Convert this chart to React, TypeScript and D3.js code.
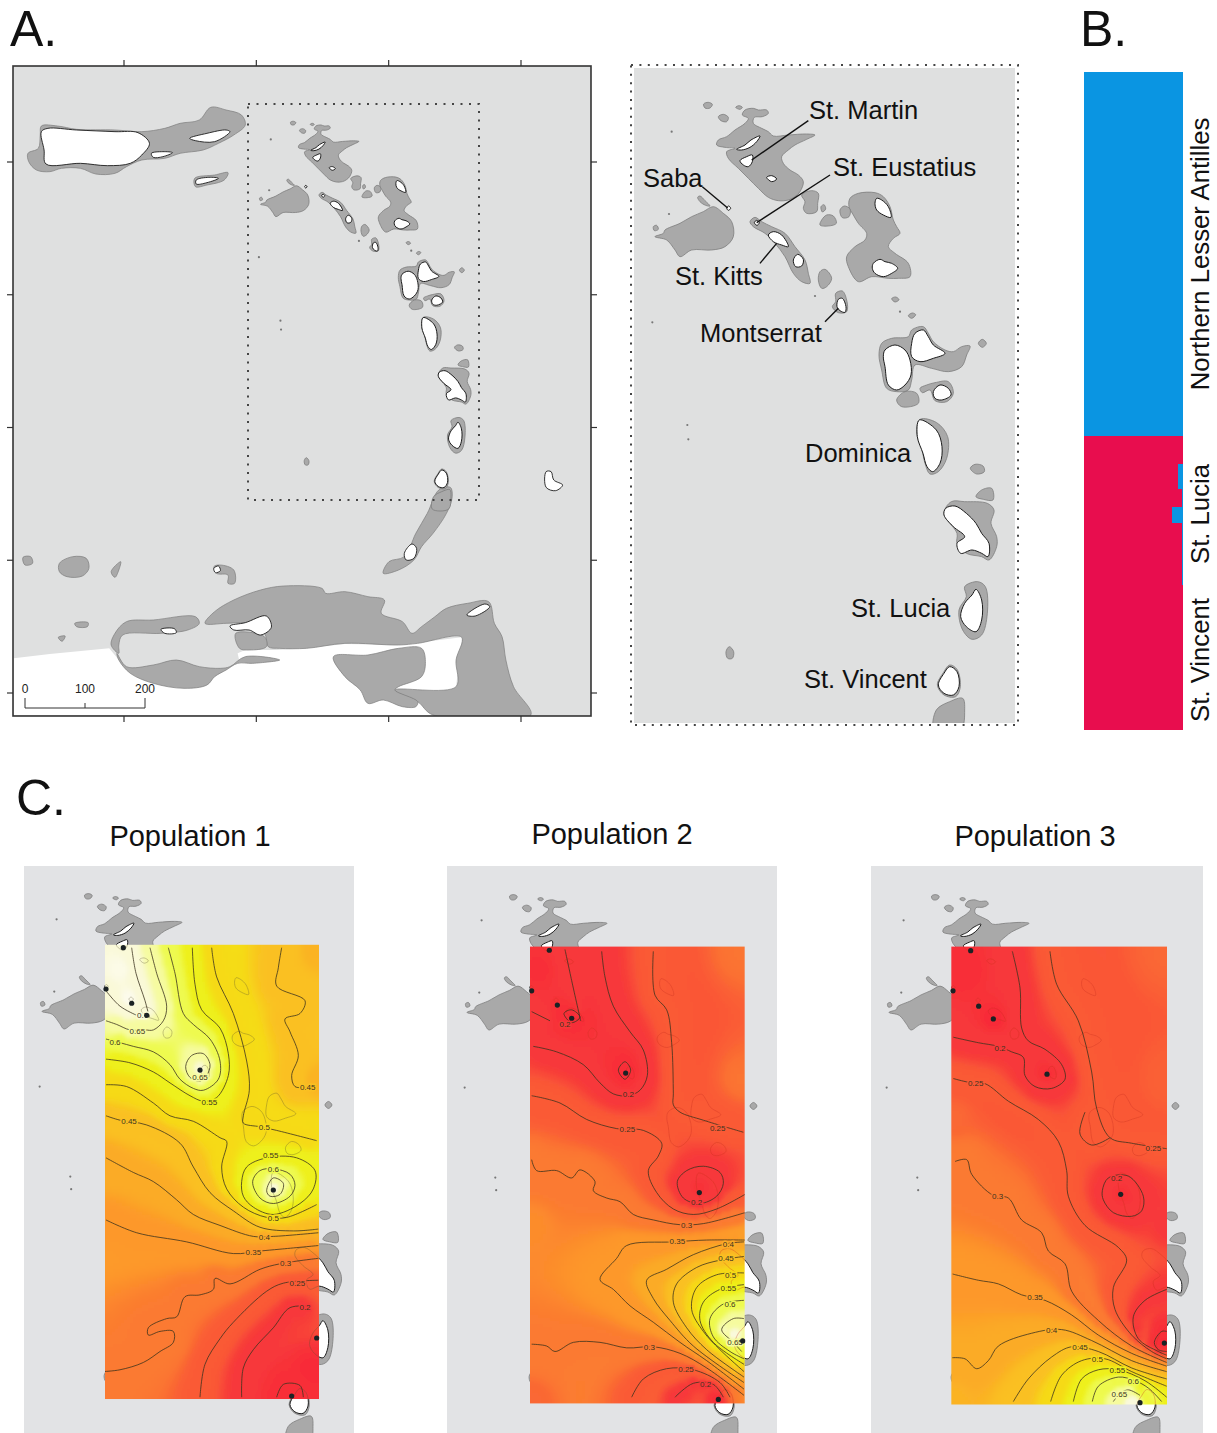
import React, { useMemo } from "react";
import * as d3 from "d3";

type P = number[];
type Contour = { level: number; pts: P[]; closed?: boolean; label?: P };

// ---- shared geography, in map units -------------------------------------------------
const SHELVES: P[][] = [
  [[360,150],[385,145],[400,150],[425,150],[430,160],[412,170],[388,172],[385,190],[410,205],[430,215],[445,228],[490,225],[545,222],[570,225],[545,238],[510,255],[490,270],[470,290],[475,310],[495,330],[520,345],[535,365],[525,395],[510,410],[490,420],[460,422],[430,412],[400,385],[370,355],[340,325],[310,295],[305,275],[330,265],[300,262],[275,255],[280,240],[305,230],[330,210],[360,190],[370,175],[352,165]],
  [[236,132],[250,127],[262,133],[255,144],[240,144]],
  [[280,170],[295,163],[310,172],[305,185],[288,182]],
  [[332,142],[342,137],[352,142],[345,148]],
  [[530,405],[560,392],[580,400],[578,430],[575,455],[545,460],[535,445],[540,425]],
  [[588,440],[597,434],[602,447],[592,456]],
  [[590,480],[605,465],[625,468],[634,490],[610,498],[585,495]],
  [[675,415],[700,400],[750,398],[775,410],[795,440],[805,480],[815,500],[825,520],[805,535],[790,560],[810,580],[850,610],[855,650],[820,655],[790,655],[740,650],[700,665],[670,620],[665,590],[690,560],[720,540],[725,520],[700,490],[685,465],[672,440]],
  [[645,450],[658,438],[675,447],[672,470],[652,473]],
  [[120,510],[165,490],[200,470],[235,455],[265,440],[295,460],[320,485],[325,530],[300,560],[260,570],[200,570],[165,590],[150,570],[125,540],[90,530],[115,520]],
  [[85,500],[95,496],[100,508],[88,512]],
  [[218,412],[225,408],[240,422],[255,438],[242,436],[225,425]],
  [[375,485],[390,472],[410,485],[440,500],[480,520],[510,560],[540,600],[550,640],[555,670],[530,665],[505,640],[480,590],[450,550],[420,520],[385,500]],
  [[585,635],[600,628],[620,655],[605,680],[590,685],[580,660]],
  [[632,700],[652,693],[665,720],[665,755],[640,758],[622,740],[632,725]],
  [[800,716],[812,711],[822,719],[810,726]],
  [[850,767],[862,759],[872,764],[860,775]],
  [[770,850],[800,835],[850,830],[860,810],[895,800],[910,820],[925,845],[960,870],[985,875],[1010,860],[1035,858],[1025,885],[1010,920],[970,935],[920,925],[870,915],[860,960],[850,990],[815,995],[785,985],[770,930],[762,885]],
  [[1060,850],[1072,838],[1084,850],[1072,862]],
  [[885,985],[905,975],[930,968],[970,965],[985,1000],[965,1025],[930,1022],[915,990],[892,998]],
  [[815,1020],[840,995],[875,1000],[880,1030],[830,1040]],
  [[885,1078],[935,1088],[968,1130],[965,1195],[940,1235],[915,1242],[900,1210],[890,1165],[875,1120]],
  [[1036,1225],[1050,1213],[1074,1218],[1078,1235],[1055,1242]],
  [[1053,1310],[1070,1290],[1100,1285],[1104,1320],[1075,1318]],
  [[979,1325],[1019,1325],[1087,1330],[1107,1350],[1098,1390],[1115,1430],[1115,1460],[1092,1500],[1070,1490],[1024,1480],[996,1450],[996,1420],[957,1360]],
  [[1019,1580],[1058,1565],[1081,1580],[1087,1660],[1070,1725],[1041,1738],[1013,1710],[1002,1650],[1024,1610]],
  [[974,1815],[996,1828],[1006,1880],[992,1910],[957,1905],[937,1875],[955,1838]],
  [[934,1950],[974,1925],[1013,1915],[1019,1950],[1007,2010],[928,2010]],
  [[303,1775],[313,1760],[326,1775],[322,1795],[308,1795]],
];
const LANDS: P[][] = [
  [[335,268],[360,255],[378,240],[405,228],[395,245],[375,262],[350,270]],
  [[345,302],[365,290],[382,285],[382,305],[370,320],[355,315]],
  [[425,352],[440,347],[455,357],[440,365]],
  [[305,444],[311,438],[317,445],[310,451]],
  [[388,488],[395,481],[403,488],[396,496]],
  [[430,525],[445,515],[470,525],[490,560],[470,555],[445,545]],
  [[505,600],[518,583],[535,598],[530,618],[512,620]],
  [[755,415],[770,420],[790,440],[798,472],[775,465],[755,450],[750,430]],
  [[745,610],[765,598],[780,605],[800,610],[818,625],[800,640],[775,650],[750,640],[742,625]],
  [[640,718],[652,715],[663,740],[660,757],[645,752],[636,740]],
  [[780,870],[810,855],[840,870],[855,900],[858,945],[840,975],[815,990],[790,975],[780,920],[775,890]],
  [[860,850],[870,820],[895,810],[910,830],[925,855],[960,880],[925,895],[885,905],[860,890]],
  [[925,995],[945,975],[970,985],[978,1005],[950,1020],[930,1015]],
  [[883,1080],[934,1110],[951,1160],[945,1210],[923,1235],[906,1220],[894,1180],[877,1130]],
  [[962,1345],[990,1338],[1024,1360],[1053,1390],[1070,1420],[1092,1450],[1089,1490],[1070,1480],[1041,1470],[1007,1480],[996,1450],[1019,1430],[985,1400],[957,1365]],
  [[1053,1588],[1070,1620],[1070,1680],[1053,1715],[1024,1700],[1007,1670],[1019,1630],[1041,1605]],
  [[974,1820],[996,1835],[1002,1880],[985,1905],[957,1900],[940,1875],[957,1840]],
];
const SPECKS: P[] = [[140,215],[132,462],[82,787],[187,1095],[190,1138],[570,708],[825,755]];

// ---- regional geography, panel A only, in regional units ------------------------------
const MAINLAND: P[] = [[36,1975],[130,1962],[285,1945],[310,1980],[340,2020],[400,2050],[480,2065],[540,2055],[560,2030],[590,2010],[625,1985],[620,1960],[640,1950],[720,1950],[800,1945],[900,1932],[1040,1935],[1205,1912],[1190,2060],[1130,2146],[36,2146]];
const REGION_SHELVES: P[][] = [
  [[73,460],[100,445],[105,405],[108,378],[150,378],[200,388],[300,390],[370,395],[430,385],[470,370],[520,360],[550,322],[590,330],[630,345],[640,375],[610,405],[570,430],[530,450],[470,460],[430,475],[370,480],[330,500],[300,520],[250,522],[210,505],[160,505],[130,515],[95,510],[75,485]],
  [[508,535],[560,525],[595,518],[585,540],[540,555],[510,560]],
  [[1175,1462],[1180,1490],[1165,1540],[1130,1600],[1100,1640],[1080,1680],[1040,1710],[1000,1720],[1015,1685],[1055,1670],[1085,1600],[1115,1540],[1145,1470]],
  [[60,1672],[80,1670],[85,1690],[65,1695]],
  [[155,1690],[190,1670],[225,1675],[232,1705],[215,1728],[175,1730],[155,1715]],
  [[290,1715],[315,1685],[310,1710],[300,1732]],
  [[558,1700],[575,1695],[610,1710],[612,1750],[595,1750],[595,1725],[565,1720]],
  [[535,1870],[560,1835],[610,1800],[680,1770],[740,1758],[840,1765],[850,1780],[900,1775],[960,1790],[1003,1800],[995,1840],[1050,1865],[1075,1900],[1100,1880],[1135,1850],[1165,1825],[1220,1810],[1275,1805],[1290,1870],[1310,1910],[1320,1980],[1340,2060],[1385,2145],[1130,2145],[1090,2105],[1030,2070],[1190,2060],[1190,1980],[1205,1912],[1090,1930],[1040,1935],[900,1930],[800,1945],[730,1945],[700,1940],[690,1900],[640,1870],[590,1870]],
  [[290,1935],[300,1900],[330,1865],[400,1860],[510,1850],[520,1870],[490,1890],[420,1900],[320,1905],[310,1935],[310,1960]],
  [[305,1960],[330,2000],[400,1995],[460,1980],[520,2000],[575,2005],[600,2000],[640,1970],[730,1980],[660,1990],[620,1990],[590,2010],[560,2030],[540,2055],[480,2065],[400,2050],[340,2020],[310,1980]],
  [[615,1900],[690,1910],[695,1940],[650,1950],[625,1945]],
  [[870,1970],[960,1965],[1040,1945],[1100,1945],[1110,1990],[1100,2030],[1040,2060],[1030,2070],[1090,2105],[1085,2120],[1050,2120],[1000,2100],[960,2110],[940,2070],[900,2030]],
  [[195,1870],[230,1868],[228,1880],[200,1880]],
  [[152,1912],[170,1908],[162,1924]],
];
const REGION_LANDS: P[][] = [
  [[108,395],[125,385],[200,390],[300,395],[360,398],[390,430],[370,465],[340,490],[280,497],[210,490],[120,492],[115,450]],
  [[395,460],[425,455],[450,458],[425,470],[400,472]],
  [[495,415],[540,400],[590,390],[600,395],[560,425],[510,422]],
  [[512,540],[545,532],[570,535],[540,548],[512,552]],
  [[1425,1415],[1438,1415],[1445,1440],[1468,1455],[1450,1472],[1425,1462]],
  [[1055,1660],[1075,1632],[1087,1645],[1080,1675],[1060,1680]],
  [[600,1878],[640,1868],[695,1848],[708,1882],[680,1905],[650,1890],[610,1890]],
  [[420,1888],[455,1886],[460,1898],[430,1900]],
  [[1218,1845],[1265,1812],[1278,1820],[1240,1848]],
  [[558,1705],[570,1698],[575,1712],[562,1718]],
];

const LON_TICKS = [-64, -63, -62, -61];
const LAT_TICKS = [19, 18, 17, 16, 15];
const SCALE_BAR = [0, 100, 200];

// ---- inset labels ---------------------------------------------------------------------
const INSET_LABELS: [string, number, number][] = [
  ["St. Martin", 809, 119], ["Saba", 643, 187], ["St. Eustatius", 833, 176], ["St. Kitts", 675, 285],
  ["Montserrat", 700, 342], ["Dominica", 805, 462], ["St. Lucia", 851, 617], ["St. Vincent", 804, 688],
];
const LEADERS: P[][] = [
  [[550,182],[380,300]], [[232,380],[308,444]], [[615,345],[395,488]], [[455,550],[405,610]], [[640,745],[600,785]],
];

// ---- panel B: cluster membership by individual ------------------------------------------
const STRUCTURE_ROWS: P[] = [[0,55.3,1],[55.3,59.5,0],[59.5,63.4,.05],[63.4,66.1,.012],[66.1,68.5,.11],[68.5,75,.015],[75,78,.012],[78,100,0]];
const CLUSTER_COLORS = ["#e80d4e", "#0a95e2"];

// ---- panel C: membership surfaces --------------------------------------------------------
const P1_SITES: P[] = [[310,240],[258,353],[335,392],[380,425],[540,575],[760,903],[890,1308],[815,1467]];
const P2_SITES: P[] = [[328,247],[275,358],[352,397],[395,433],[557,583],[778,910],[908,1316],[835,1476]];
const P3_SITES: P[] = [[317,248],[264,358],[341,400],[385,435],[546,586],[767,915],[898,1322],[825,1485]];

const P1_CONTOURS: Contour[] = [
  { level: .7, pts: [[335,240],[348,310],[375,385],[388,430]] },
  { level: .7, pts: [[258,358],[300,400],[350,425]], label: [368,425] },
  { level: .65, pts: [[390,240],[410,310],[440,400],[430,440],[400,465],[375,465],[330,465],[290,450],[258,440]], label: [352,467] },
  { level: .6, pts: [[445,240],[465,310],[490,420],[520,450],[570,490],[600,550],[595,600],[550,630],[520,625],[480,600],[450,560],[400,525],[340,510],[300,500],[258,490]], label: [285,497] },
  { level: .65, closed: true, pts: [[497,565],[515,535],[550,530],[570,560],[560,590],[540,605],[510,595]], label: [540,593] },
  { level: .55, pts: [[517,240],[525,340],[545,410],[600,460],[625,530],[625,590],[590,650],[550,660],[510,645],[450,610],[400,580],[330,555],[258,545]], label: [568,662] },
  { level: .5, pts: [[575,240],[590,320],[640,420],[680,550],[688,630],[670,700],[670,720],[720,730],[770,740],[890,768]], label: [733,730] },
  { level: .5, pts: [[258,615],[320,620],[400,665],[450,700],[520,715],[600,760],[620,770],[605,840],[620,900],[670,950],[740,978],[800,978],[890,943]], label: [760,980] },
  { level: .55, closed: true, pts: [[665,880],[680,840],[740,815],[830,815],[885,850],[880,900],[840,940],[760,970],[700,950],[670,920]], label: [752,808] },
  { level: .6, closed: true, pts: [[698,880],[720,850],[760,845],[810,860],[825,890],[810,920],[760,940],[720,925]], label: [760,846] },
  { level: .65, closed: true, pts: [[740,905],[760,870],[790,885],[780,915],[750,920]] },
  { level: .45, pts: [[258,700],[300,712],[380,725],[480,775],[520,840],[570,910],[640,960],[720,1005],[820,1015],[895,1010]], label: [327,715] },
  { level: .45, pts: [[785,240],[775,295],[770,345],[855,385],[840,420],[795,435],[810,470],[835,535],[815,590],[825,620],[860,622]], label: [863,622] },
  { level: .4, pts: [[258,815],[340,855],[400,880],[470,930],[520,970],[600,1000],[700,1030],[760,1030],[895,1020]], label: [733,1033] },
  { level: .35, pts: [[258,985],[350,1020],[500,1045],[640,1077],[720,1070],[780,1065],[895,1055]], label: [700,1072] },
  { level: .3, pts: [[248,1400],[300,1395],[370,1375],[420,1345],[460,1320],[460,1290],[420,1290],[385,1300],[385,1280],[440,1255],[470,1250],[495,1195],[540,1190],[580,1175],[585,1145],[630,1160],[720,1120],[780,1105],[895,1090]], label: [797,1103] },
  { level: .25, pts: [[540,1470],[555,1380],[600,1310],[640,1265],[740,1180],[790,1158],[895,1150]], label: [832,1157] },
  { level: .2, pts: [[665,1470],[670,1390],[700,1340],[760,1280],[810,1225],[870,1222]], label: [855,1222] },
  { level: .15, pts: [[770,1470],[790,1435],[840,1438],[850,1470]] },
];
const P2_CONTOURS: Contour[] = [
  { level: .15, closed: true, pts: [[372,420],[395,410],[420,430],[395,445]] },
  { level: .15, closed: true, pts: [[535,575],[555,552],[572,575],[555,600]] },
  { level: .2, pts: [[375,245],[395,330],[422,440]] },
  { level: .2, pts: [[275,415],[330,440]], label: [375,448] },
  { level: .2, pts: [[485,250],[495,320],[520,400],[570,470],[610,520],[622,590],[600,630],[565,645],[520,640],[480,610],[430,560],[350,525],[280,510]], label: [565,640] },
  { level: .25, pts: [[640,250],[645,370],[680,410],[695,500],[700,640],[700,670],[720,690],[790,712],[910,745]], label: [833,733] },
  { level: .25, pts: [[275,645],[360,665],[440,710],[530,735],[610,740],[665,775],[655,810],[625,850],[650,910],[700,955],[760,970],[830,955],[915,915]], label: [562,735] },
  { level: .2, closed: true, pts: [[712,880],[740,850],[790,838],[840,855],[850,885],[830,920],[780,940],[730,925]], label: [770,935] },
  { level: .3, pts: [[275,820],[290,850],[350,850],[395,870],[420,848],[465,880],[460,905],[500,925],[540,935],[580,970],[640,985],[720,998],[790,995],[915,965]], label: [740,998] },
  { level: .35, pts: [[915,1040],[800,1040],[700,1045],[560,1055],[530,1090],[480,1148],[520,1175],[570,1220],[640,1265],[720,1320],[800,1370],[912,1448]], label: [712,1043] },
  { level: .3, pts: [[275,1325],[320,1330],[345,1345],[400,1320],[480,1320],[560,1335],[640,1332],[720,1350],[800,1390],[912,1465]], label: [628,1332] },
  { level: .25, pts: [[575,1470],[610,1420],[680,1392],[760,1395],[840,1430],[870,1470]], label: [738,1393] },
  { level: .2, pts: [[705,1470],[760,1432],[820,1435],[850,1470]], label: [797,1433] },
  { level: .4, pts: [[912,1045],[860,1050],[760,1080],[680,1120],[620,1150],[640,1200],[690,1260],[760,1330],[912,1430]], label: [865,1050] },
  { level: .45, pts: [[912,1085],[840,1095],[770,1115],[710,1160],[700,1210],[740,1280],[800,1340],[912,1415]], label: [858,1090] },
  { level: .5, pts: [[912,1130],[830,1135],[770,1170],[755,1230],[790,1290],[840,1340],[912,1400]], label: [872,1135] },
  { level: .55, pts: [[912,1162],[840,1175],[790,1210],[780,1260],[820,1320],[912,1380]], label: [865,1172] },
  { level: .6, pts: [[912,1205],[850,1215],[810,1255],[820,1305],[870,1345],[912,1365]], label: [870,1215] },
  { level: .65, pts: [[912,1255],[880,1255],[845,1285],[880,1320],[905,1345]], label: [885,1320] },
];
const P3_CONTOURS: Contour[] = [
  { level: .2, pts: [[442,250],[465,350],[470,460],[490,495],[540,518],[590,560],[600,600],[560,625],[510,620],[480,590],[475,540],[440,525],[400,510],[340,500],[265,485]], label: [405,515] },
  { level: .25, pts: [[555,250],[575,340],[640,440],[680,580],[695,680],[735,760],[800,775],[905,790]], label: [865,787] },
  { level: .25, pts: [[660,690],[645,750],[680,780],[735,760]] },
  { level: .25, pts: [[265,598],[310,608],[360,612],[430,660],[520,710],[580,770],[605,850],[610,920],[660,1000],[760,1060],[785,1095],[745,1170],[750,1230],[800,1300],[860,1345],[905,1365]], label: [332,610] },
  { level: .2, closed: true, pts: [[712,905],[730,870],[790,865],[835,920],[830,960],[800,975],[745,965],[715,930]], label: [755,870] },
  { level: .2, pts: [[905,1175],[840,1205],[805,1250],[820,1310],[880,1345],[905,1355]] },
  { level: .15, pts: [[905,1290],[890,1290],[868,1320],[880,1340],[905,1345]] },
  { level: .3, pts: [[270,825],[305,820],[320,860],[385,918],[430,925],[470,985],[530,1020],[550,1070],[600,1105],[620,1180],[700,1260],[800,1330],[905,1375]], label: [398,920] },
  { level: .35, pts: [[263,1133],[340,1150],[400,1160],[470,1190],[540,1205],[620,1245],[700,1300],[800,1350],[905,1385]], label: [510,1197] },
  { level: .4, pts: [[262,1362],[300,1365],[335,1392],[370,1370],[400,1330],[500,1295],[590,1285],[680,1315],[800,1370],[905,1400]], label: [560,1287] },
  { level: .45, pts: [[445,1482],[490,1420],[560,1360],[620,1332],[700,1345],[800,1390],[905,1420]], label: [645,1332] },
  { level: .5, pts: [[557,1482],[590,1410],[650,1370],[720,1365],[800,1400],[905,1440]], label: [697,1365] },
  { level: .55, pts: [[625,1482],[650,1420],[700,1395],[760,1395],[840,1425],[905,1470]], label: [757,1395] },
  { level: .6, pts: [[682,1482],[700,1440],[760,1415],[810,1425],[850,1445],[890,1482]], label: [805,1425] },
  { level: .65, pts: [[745,1482],[765,1460],[790,1450],[825,1465]], label: [763,1462] },
];
const P1_PEAKS: P[] = [[325,380,.78],[300,300,.76],[540,570,.7],[760,900,.72],[870,1400,.13],[890,250,.42],[890,600,.42],[258,1470,.3]];
const P2_PEAKS: P[] = [[300,300,.15],[395,430,.13],[555,583,.14],[778,900,.17],[880,1300,.72],[850,1285,.68],[830,1470,.14],[905,250,.29],[905,600,.29],[275,1000,.33],[275,1480,.27]];
const P3_PEAKS: P[] = [[300,300,.14],[385,435,.13],[546,586,.15],[770,915,.17],[895,1320,.12],[800,1485,.72],[905,250,.27],[905,600,.26],[270,700,.27],[265,1485,.42],[905,1000,.2]];

const HEAT_VALUES = [.1, .2, .25, .3, .35, .4, .45, .5, .55, .6, .65, .7, .8];
const HEAT_COLORS = ["#f92638", "#f7383a", "#fa5a36", "#fb7a30", "#fd982a", "#fbab26", "#fac022", "#f6da18", "#eef01a", "#eefa50", "#f6fba0", "#faf9d8", "#fdfcf2"];
const heat = d3.scaleLinear<string>().domain(HEAT_VALUES).range(HEAT_COLORS).clamp(true);

const PANELS = [
  { title: "Population 1", titleX: 190, titleY: 846, bg: [24, 354], dx: 0, dy: 0, zoomX: 20, rect: [255, 232, 897, 1475], contours: P1_CONTOURS, peaks: P1_PEAKS, sites: P1_SITES, outline: "#5a5030" },
  { title: "Population 2", titleX: 612, titleY: 844, bg: [447, 777], dx: 425, dy: 1, zoomX: 440, rect: [270, 237, 914, 1487], contours: P2_CONTOURS, peaks: P2_PEAKS, sites: P2_SITES, outline: "#c8301c" },
  { title: "Population 3", titleX: 1035, titleY: 846, bg: [871, 1203], dx: 847, dy: 1, zoomX: 865, rect: [259, 237, 906, 1490], contours: P3_CONTOURS, peaks: P3_PEAKS, sites: P3_SITES, outline: "#c8301c" },
];

const FONT = "'Liberation Sans', Arial, sans-serif";
const closed = (sx: any, sy: any) => d3.line<P>().x(d => sx(d[0])).y(d => sy(d[1])).curve(d3.curveCatmullRomClosed.alpha(.5));

function surfaceImage(rect: number[], contours: Contour[], peaks: P[]): string {
  const samples: P[] = [...peaks.map(p => [p[0], p[1], p[2]])];
  contours.forEach(c => {
    const pts = c.closed ? [...c.pts, c.pts[0]] : c.pts;
    for (let i = 0; i < pts.length - 1; i++) {
      const steps = Math.max(1, Math.round(Math.hypot(pts[i + 1][0] - pts[i][0], pts[i + 1][1] - pts[i][1]) / 30));
      for (let s = 0; s < steps; s++) {
        const t = s / steps;
        samples.push([pts[i][0] + (pts[i + 1][0] - pts[i][0]) * t, pts[i][1] + (pts[i + 1][1] - pts[i][1]) * t, c.level]);
      }
    }
  });
  const w = 72, h = 152;
  const canvas = document.createElement("canvas");
  canvas.width = w; canvas.height = h;
  const ctx = canvas.getContext("2d")!;
  for (let j = 0; j < h; j++) for (let i = 0; i < w; i++) {
    const x = rect[0] + (rect[2] - rect[0]) * (i + .5) / w;
    const y = rect[1] + (rect[3] - rect[1]) * (j + .5) / h;
    let sw = 0, sv = 0;
    for (const s of samples) {
      const d2 = (s[0] - x) ** 2 + (s[1] - y) ** 2 + 30;
      const wt = 1 / (d2 * d2);
      sw += wt; sv += wt * s[2];
    }
    ctx.fillStyle = heat(sv / sw);
    ctx.fillRect(i, j, 1, 1);
  }
  return canvas.toDataURL();
}

function Geography({ sx, sy, outlineOnly }: { sx: any; sy: any; outlineOnly?: string }) {
  const path = closed(sx, sy);
  if (outlineOnly) {
    return <g fill="none" stroke={outlineOnly} strokeWidth={.6} opacity={.55}>
      {LANDS.map((d, i) => <path key={"l" + i} d={path(d) as string} />)}
    </g>;
  }
  return <g>
    {SHELVES.map((d, i) => <path key={i} d={path(d) as string} fill="#a9a9a9" stroke="#7d7d7d" strokeWidth={.8} />)}
    {LANDS.map((d, i) => <path key={"l" + i} d={path(d) as string} fill="#fff" stroke="#1c1c1c" strokeWidth={1} />)}
    {SPECKS.map((d, i) => <circle key={"s" + i} cx={sx(d[0])} cy={sy(d[1])} r={1.1} fill="#777" />)}
  </g>;
}

function PanelC({ panel }: { panel: typeof PANELS[number] }) {
  const { dx, dy, rect, contours, peaks, sites, bg, outline, zoomX, title, titleX, titleY } = panel;
  const href = useMemo(() => surfaceImage(rect, contours, peaks), []);
  const gx = d3.scaleLinear().domain([0, 1000]).range([15.75 + dx, 307.45 + dx]);
  const gy = d3.scaleLinear().domain([0, 1000]).range([856.5 + dy, 1148.8 + dy]);
  const x = d3.scaleLinear().domain([0, 1050]).range([zoomX, zoomX + 350]);
  const y = d3.scaleLinear().domain([0, 1568]).range([860, 1433]);
  const id = "clip" + dx;
  const rx = x(rect[0]), ry = y(rect[1]), rw = x(rect[2]) - rx, rh = y(rect[3]) - ry;
  const open = d3.line<P>().x(d => x(d[0])).y(d => y(d[1])).curve(d3.curveCatmullRom.alpha(.5));
  const loop = d3.line<P>().x(d => x(d[0])).y(d => y(d[1])).curve(d3.curveCatmullRomClosed.alpha(.5));
  return <g>
    <defs>
      <clipPath id={id + "bg"}><rect x={bg[0]} y={866} width={bg[1] - bg[0]} height={567} /></clipPath>
      <clipPath id={id}><rect x={rx} y={ry} width={rw} height={rh} /></clipPath>
    </defs>
    <text x={titleX} y={titleY} textAnchor="middle" fontSize={29} fontFamily={FONT} fill="#111">{title}</text>
    <g filter="url(#soft)">
      <rect x={bg[0]} y={866} width={bg[1] - bg[0]} height={567} fill="#e2e3e5" />
      <g clipPath={`url(#${id}bg)`}><Geography sx={gx} sy={gy} /></g>
      <image href={href} x={rx} y={ry} width={rw} height={rh} preserveAspectRatio="none" />
      <g clipPath={`url(#${id})`}>
        <Geography sx={gx} sy={gy} outlineOnly={outline} />
        {contours.map((c, i) => <path key={i} d={(c.closed ? loop(c.pts) : open(c.pts)) as string} fill="none" stroke="#3c3420" strokeWidth={.8} />)}
      </g>
    </g>
    {contours.filter(c => c.label).map((c, i) => (
      <text key={i} x={x(c.label![0])} y={y(c.label![1])} dy={3} textAnchor="middle" fontSize={8} fontFamily={FONT} fill="#3c3420"
        stroke={heat(c.level)} strokeWidth={3} paintOrder="stroke">{String(c.level)}</text>
    ))}
    {sites.map((s, i) => <circle key={i} cx={x(s[0])} cy={y(s[1])} r={2.6} fill="#1b2224" />)}
  </g>;
}

export default function App() {
  // panel A scales
  const ax = d3.scaleLinear().domain([0, 1000]).range([242.1, 447.1]);
  const ay = d3.scaleLinear().domain([0, 1000]).range([95.1, 301.1]);
  const rx = d3.scaleLinear().domain([0, 1563]).range([0, 599]);
  const ry = d3.scaleLinear().domain([0, 1200]).range([0, 400]);
  const lon = d3.scaleLinear().domain([-64, -61]).range([124, 521]);
  const lat = d3.scaleLinear().domain([19, 15]).range([162, 693]);
  const km = d3.scaleLinear().domain([0, 200]).range([25, 145]);
  // inset scales
  const ix = d3.scaleLinear().domain([0, 1000]).range([625, 958.33]);
  const iy = d3.scaleLinear().domain([0, 1000]).range([60, 393.33]);
  // panel B scales
  const bx = d3.scaleLinear().domain([0, 1]).range([1084, 1183]);
  const by = d3.scaleLinear().domain([0, 100]).range([72, 730]);
  const rPath = closed(rx, ry);
  return (
    <svg width={1217} height={1433} viewBox="0 0 1217 1433" style={{ position: "absolute", left: 0, top: 0, display: "block", background: "#fff" }}>
      <defs>
        <filter id="soft" x="-2%" y="-2%" width="104%" height="104%"><feGaussianBlur stdDeviation={.45} /></filter>
        <clipPath id="frameA"><rect x={13} y={66} width={578} height={650} /></clipPath>
        <clipPath id="frameI"><rect x={634} y={68} width={381} height={655} /></clipPath>
      </defs>

      {/* Panel A */}
      <text x={10} y={46} fontSize={50} fontFamily={FONT} fill="#111">A.</text>
      <g filter="url(#soft)">
        <rect x={13} y={66} width={578} height={650} fill="#dfe0e0" />
        <g clipPath="url(#frameA)">
          <path d={d3.line<P>().x(d => rx(d[0])).y(d => ry(d[1]))(MAINLAND) as string} fill="#fff" />
          {REGION_SHELVES.map((d, i) => <path key={i} d={rPath(d) as string} fill="#a9a9a9" stroke="#7d7d7d" strokeWidth={.7} />)}
          {REGION_LANDS.map((d, i) => <path key={i} d={rPath(d) as string} fill="#fff" stroke="#1c1c1c" strokeWidth={.9} />)}
          <Geography sx={ax} sy={ay} />
        </g>
        <rect x={13} y={66} width={578} height={650} fill="none" stroke="#333" strokeWidth={1.6} />
        {LON_TICKS.map(t => <g key={t} stroke="#333" strokeWidth={1.2}>
          <line x1={lon(t)} x2={lon(t)} y1={60} y2={66} />
          <line x1={lon(t)} x2={lon(t)} y1={716} y2={722} />
        </g>)}
        {LAT_TICKS.map(t => <g key={t} stroke="#333" strokeWidth={1.2}>
          <line x1={7} x2={13} y1={lat(t)} y2={lat(t)} />
          <line x1={591} x2={597} y1={lat(t)} y2={lat(t)} />
        </g>)}
        <rect x={248} y={104} width={231} height={396} fill="none" stroke="#444" strokeWidth={2} strokeDasharray="2 6.5" />
        <path d={`M${km(0)},698V708H${km(200)}V698M${km(100)},703V708`} fill="none" stroke="#333" strokeWidth={1} />
      </g>
      {SCALE_BAR.map(t => <text key={t} x={km(t)} y={693} textAnchor="middle" fontSize={12} fontFamily={FONT} fill="#222">{t}</text>)}

      {/* Inset */}
      <g filter="url(#soft)">
        <rect x={634} y={68} width={381} height={655} fill="#dfe0e0" />
        <g clipPath="url(#frameI)"><Geography sx={ix} sy={iy} /></g>
        <rect x={631} y={65} width={387} height={660} fill="none" stroke="#444" strokeWidth={2} strokeDasharray="2 6.4" />
      </g>
      {LEADERS.map((l, i) => <line key={i} x1={ix(l[0][0])} y1={iy(l[0][1])} x2={ix(l[1][0])} y2={iy(l[1][1])} stroke="#111" strokeWidth={1.4} />)}
      {INSET_LABELS.map(([t, x, y]) => <text key={t} x={x} y={y} fontSize={25.5} fontFamily={FONT} fill="#111">{t}</text>)}

      {/* Panel B */}
      <text x={1080} y={46} fontSize={50} fontFamily={FONT} fill="#111">B.</text>
      <g shapeRendering="crispEdges">
        {STRUCTURE_ROWS.map((r, i) => <g key={i}>
          <rect x={bx(0)} y={Math.round(by(r[0]))} width={bx(1 - r[2]) - bx(0)} height={Math.round(by(r[1])) - Math.round(by(r[0]))} fill={CLUSTER_COLORS[0]} />
          <rect x={bx(1 - r[2])} y={Math.round(by(r[0]))} width={bx(1) - bx(1 - r[2])} height={Math.round(by(r[1])) - Math.round(by(r[0]))} fill={CLUSTER_COLORS[1]} />
        </g>)}
      </g>
      {([["Northern Lesser Antilles", 254], ["St. Lucia", 514], ["St. Vincent", 660]] as [string, number][]).map(([t, y]) => (
        <text key={t} transform={`translate(1209,${y}) rotate(-90)`} textAnchor="middle" fontSize={25.7} fontFamily={FONT} fill="#111">{t}</text>
      ))}

      {/* Panel C */}
      <text x={16} y={815} fontSize={50} fontFamily={FONT} fill="#111">C.</text>
      {PANELS.map(p => <PanelC key={p.title} panel={p} />)}
    </svg>
  );
}
